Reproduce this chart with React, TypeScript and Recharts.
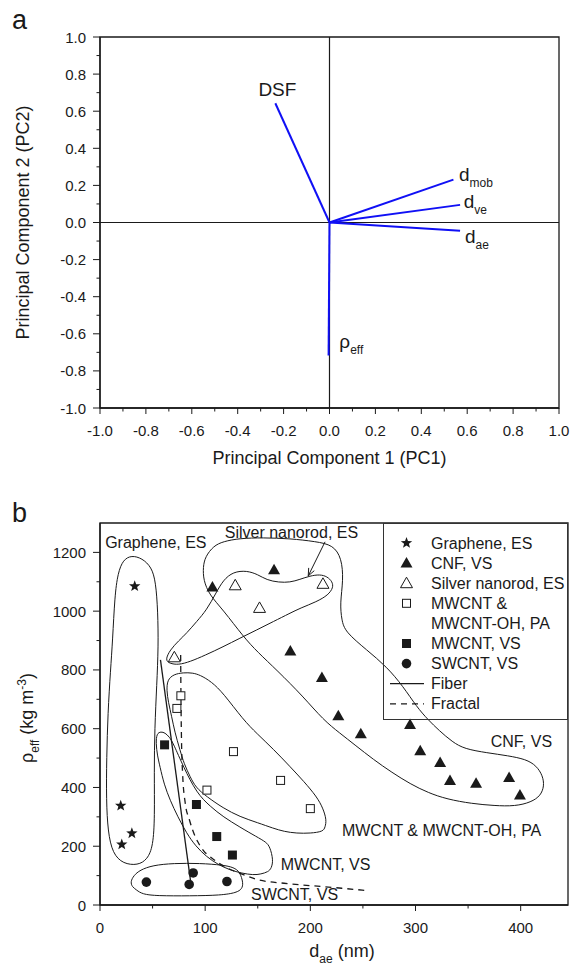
import React from 'react'
import {
  ScatterChart, Scatter, XAxis, YAxis, ReferenceLine, ReferenceArea, Legend, Label,
} from 'recharts'

const FONT = '"Liberation Sans", Arial, Helvetica, sans-serif'
const INK = '#1a1a1a'
const BLUE = '#1010f5'

// ---------- panel a : PCA loading vectors ----------
const pcaNames = ['DSF', 'd_mob', 'd_ve', 'd_ae', 'rho_eff']
const pc1 = [-0.236, 0.54, 0.569, 0.569, -0.004]
const pc2 = [0.643, 0.231, 0.095, -0.045, -0.717]
const pcaLabelMain = ['DSF', 'd', 'd', 'd', 'ρ']
const pcaLabelSub = ['', 'mob', 've', 'ae', 'eff']
const pcaLabelX = [-0.227, 0.564, 0.585, 0.59, 0.043]
const pcaLabelY = [0.681, 0.225, 0.077, -0.108, -0.676]
const pcTicks = [-1, -0.9, -0.8, -0.7, -0.6, -0.5, -0.4, -0.3, -0.2, -0.1, 0, 0.1, 0.2, 0.3, 0.4, 0.5, 0.6, 0.7, 0.8, 0.9, 1]

// ---------- panel b : effective density vs d_ae ----------
const dTicks = [0, 50, 100, 150, 200, 250, 300, 350, 400]
const rhoTicks = [0, 100, 200, 300, 400, 500, 600, 700, 800, 900, 1000, 1100, 1200]

const grapheneX = [33, 19.7, 30.3, 20.7]
const grapheneY = [1085, 338, 244, 206]
const cnfX = [106.9, 165.5, 181, 211, 226.6, 248, 294.8, 304.5, 323.4, 332.8, 357.6, 389, 399.3]
const cnfY = [1082, 1141, 864, 774, 644, 583, 614, 525, 485, 424, 414, 434, 374]
const silverX = [70.7, 128.6, 151.7, 212]
const silverY = [843, 1088, 1011, 1093]
const mwPaX = [76.9, 73.1, 126.9, 101.7, 171.7, 200]
const mwPaY = [712, 669, 522, 391, 424, 328]
const mwVsX = [61.4, 91.7, 111, 125.9]
const mwVsY = [545, 342, 233, 170]
const swX = [44.1, 84.8, 88.6, 120.7]
const swY = [78, 70, 109, 80]

const fiberX = [57.5, 87]
const fiberY = [834, 58]
const fractalX = [76.7, 77, 77.5, 78.5, 81, 85, 88, 93, 98, 108, 119, 135, 150, 175, 200, 230, 254]
const fractalY = [851, 700, 560, 450, 348, 290, 256, 215, 187, 155, 130, 105, 86, 74, 66, 57, 49]

// hand-drawn group outlines
const encGrapheneX = [30, 40, 49, 53, 55, 55.5, 54, 52, 51.5, 52, 50.5, 45, 36, 22, 12, 7.5, 6, 6.3, 7.5, 10, 12, 14, 17, 22]
const encGrapheneY = [1190, 1180, 1150, 1100, 1000, 880, 750, 600, 450, 300, 200, 155, 135, 140, 175, 250, 357, 500, 653, 800, 900, 1050, 1130, 1175]
const encSilverX = [62, 66.6, 75, 82.4, 92, 101.4, 110, 117.2, 126.7, 139.5, 150, 158.5, 170, 180.7, 190, 199.7, 209, 216, 221, 221.8, 217, 206, 190.2, 180.7, 165, 149, 133, 117.2, 100, 85.6, 74.5, 66]
const encSilverY = [834, 868, 900, 925, 965, 1004, 1060, 1106, 1134, 1138, 1125, 1106, 1098, 1098, 1108, 1120, 1125, 1118, 1100, 1080, 1055, 1032, 1010, 993, 965, 936, 908, 879, 850, 828, 817, 822]
const encCnfX = [100, 108, 117, 133, 155, 181, 205, 221.8, 229.8, 231.4, 228.2, 229.8, 233, 253.6, 272.6, 288.4, 301, 312, 322.4, 335, 346.6, 368, 388, 405, 415, 421, 422.4, 419, 410, 394.8, 375, 353.4, 330, 312, 295, 277.6, 260, 243, 228, 212.3, 193.3, 168, 150, 136.3, 117.2, 104, 98.3, 98]
const encCnfY = [1185, 1222, 1237, 1248, 1250, 1247, 1237, 1225, 1180, 1106, 1027, 970, 930, 868, 811, 743, 675, 630, 594, 555, 531, 518, 508, 496, 474, 440, 405, 372, 350, 336, 338, 345, 360, 382, 412, 451, 495, 543, 585, 630, 709, 800, 860, 913, 1004, 1055, 1106, 1150]
const encMwPaX = [64, 70, 79.2, 88, 95, 106, 117.2, 136.3, 149, 165, 180.7, 194, 206, 212, 215.5, 214, 212.3, 200, 187, 175, 164.8, 150, 133.1, 117, 101.4, 91, 85.6, 80, 76, 71, 68.2, 65, 63.4]
const encMwPaY = [766, 785, 791, 790, 783, 760, 721, 630, 584, 530, 471, 420, 369, 330, 289, 265, 250, 244, 244, 250, 261, 280, 300, 330, 369, 400, 437, 480, 528, 590, 641, 690, 730]
const encMwVsX = [53.9, 58, 61.8, 66, 69.7, 79.2, 92, 105, 117.2, 133, 149, 158, 161.6, 164.8, 163, 160, 153, 145.8, 135, 123.6, 112, 101.4, 91, 82.4, 74, 66.6, 61, 57, 54.5, 53.2]
const encMwVsY = [584, 590, 586, 572, 550, 471, 380, 335, 300, 265, 232, 214, 198, 153, 125, 113, 105, 102, 108, 119, 138, 164, 200, 244, 300, 357, 410, 471, 510, 550]
const encSwX = [29, 32, 38, 50, 69.7, 95, 117.2, 127, 133.1, 136.3, 135, 130, 115, 85.6, 53.9, 40, 34.8, 30.5]
const encSwY = [79, 100, 119, 135, 142, 142, 136, 128, 113, 74, 55, 42, 33, 31, 31, 37, 51, 62]

const groupLabels = ['Graphene, ES', 'Silver nanorod, ES', 'CNF, VS', 'MWCNT & MWCNT-OH, PA', 'MWCNT, VS', 'SWCNT, VS']
const groupLabelX = [53.1, 182, 400.7, 324.8, 214.5, 185]
const groupLabelY = [1214, 1249, 537, 235, 118, 16]
const arrowX = [214, 198]
const arrowY = [1236, 1120]

const legendLabels = ['Graphene, ES', 'CNF, VS', 'Silver nanorod, ES', 'MWCNT &', 'MWCNT-OH, PA', 'MWCNT, VS', 'SWCNT, VS', 'Fiber', 'Fractal']
const legendMarks = ['star', 'tri', 'openTri', 'openSq', '', 'sq', 'circle', 'solid', 'dash']

const pts = (xs: number[], ys: number[]) => xs.map((x, i) => ({ x, y: ys[i] }))

function starPoints(cx: number, cy: number, R: number, r: number) {
  const out: string[] = []
  for (let i = 0; i < 10; i++) {
    const a = -Math.PI / 2 + (i * Math.PI) / 5
    const rad = i % 2 === 0 ? R : r
    out.push(`${cx + rad * Math.cos(a)},${cy + rad * Math.sin(a)}`)
  }
  return out.join(' ')
}

function mark(kind: string, cx: number, cy: number) {
  switch (kind) {
    case 'star':
      return <polygon points={starPoints(cx, cy, 6, 2.5)} fill={INK} />
    case 'tri':
      return <polygon points={`${cx},${cy - 6} ${cx + 6},${cy + 4.5} ${cx - 6},${cy + 4.5}`} fill={INK} />
    case 'openTri':
      return <polygon points={`${cx},${cy - 6} ${cx + 6},${cy + 4.5} ${cx - 6},${cy + 4.5}`} fill="#fff" stroke={INK} strokeWidth={1} />
    case 'openSq':
      return <rect x={cx - 4} y={cy - 4} width={8} height={8} fill="#fff" stroke={INK} strokeWidth={1} />
    case 'sq':
      return <rect x={cx - 4.5} y={cy - 4.5} width={9} height={9} fill={INK} />
    case 'circle':
      return <circle cx={cx} cy={cy} r={4.8} fill={INK} />
    default:
      return <g />
  }
}

const shapeOf = (kind: string) => (p: any) => mark(kind, p.cx, p.cy)
const noDot = () => <g />

function XTick(props: any) {
  const { x, y, payload, isMajor, fmt } = props
  const major = isMajor(payload.value)
  return (
    <g>
      <line x1={x} y1={y} x2={x} y2={y + (major ? 6 : 3.5)} stroke={INK} />
      {major && (
        <text x={x} y={y + 22} textAnchor="middle" dominantBaseline="central" fontSize={15} fontFamily={FONT} fill={INK}>
          {fmt(payload.value)}
        </text>
      )}
    </g>
  )
}

function YTick(props: any) {
  const { x, y, payload, isMajor, fmt } = props
  const major = isMajor(payload.value)
  return (
    <g>
      <line x1={x - (major ? 7 : 3.5)} y1={y} x2={x} y2={y} stroke={INK} />
      {major && (
        <text x={x - 14} y={y} textAnchor="end" dominantBaseline="central" fontSize={15} fontFamily={FONT} fill={INK}>
          {fmt(payload.value)}
        </text>
      )}
    </g>
  )
}

const pcMajor = (v: number) => Math.round(Math.abs(v) * 10) % 2 === 0
const pcFmt = (v: number) => v.toFixed(1)
const dMajor = (v: number) => v % 100 === 0
const rhoMajor = (v: number) => v % 200 === 0
const intFmt = (v: number) => String(v)

function VectorLabel(p: any) {
  const d = p.payload
  const anchor = d.sub ? 'start' : 'middle'
  return (
    <text x={p.cx} y={p.cy} textAnchor={anchor} fontSize={19} fontFamily={FONT} fill={INK}>
      {d.main}
      {d.sub && <tspan dy={6} fontSize={12}>{d.sub}</tspan>}
    </text>
  )
}

function GroupLabel(p: any) {
  return (
    <text x={p.cx} y={p.cy} textAnchor="middle" fontSize={16} fontFamily={FONT} fill={INK}>
      {p.payload.text}
    </text>
  )
}

function ArrowShape(p: any) {
  const { x1, y1, x2, y2 } = p
  const ang = Math.atan2(y2 - y1, x2 - x1)
  const L = 8
  const a1 = ang + Math.PI - 0.4
  const a2 = ang + Math.PI + 0.4
  return (
    <g stroke={INK} strokeWidth={1} fill="none">
      <line x1={x1} y1={y1} x2={x2} y2={y2} />
      <polyline points={`${x2 + L * Math.cos(a1)},${y2 + L * Math.sin(a1)} ${x2},${y2} ${x2 + L * Math.cos(a2)},${y2 + L * Math.sin(a2)}`} />
    </g>
  )
}

const titleAY = (props: any) => {
  const vb = props.viewBox || { x: 0, y: 37, width: 100, height: 371 }
  const cx = vb.x + 29
  const cy = vb.y + vb.height / 2
  return (
    <text x={cx} y={cy} transform={`rotate(-90 ${cx} ${cy})`} textAnchor="middle" fontSize={18} fontFamily={FONT} fill={INK}>
      Principal Component 2 (PC2)
    </text>
  )
}

const titleAX = (props: any) => {
  const vb = props.viewBox || { x: 100, y: 408, width: 459, height: 60 }
  return (
    <text x={vb.x + vb.width / 2} y={vb.y + 56} textAnchor="middle" fontSize={18} fontFamily={FONT} fill={INK}>
      Principal Component 1 (PC1)
    </text>
  )
}

const titleBY = (props: any) => {
  const vb = props.viewBox || { x: 0, y: 53, width: 100, height: 382 }
  const cx = vb.x + 33
  const cy = vb.y + vb.height / 2 + 4
  return (
    <text x={cx} y={cy} transform={`rotate(-90 ${cx} ${cy})`} textAnchor="middle" fontSize={18} fontFamily={FONT} fill={INK}>
      ρ<tspan dy={6} fontSize={12}>eff</tspan>
      <tspan dy={-6}> (kg m</tspan>
      <tspan dy={-7} fontSize={12}>-3</tspan>
      <tspan dy={7}>)</tspan>
    </text>
  )
}

const titleBX = (props: any) => {
  const vb = props.viewBox || { x: 100, y: 905, width: 468, height: 55 }
  return (
    <text x={vb.x + vb.width / 2 + 8} y={vb.y + 52} textAnchor="middle" fontSize={18} fontFamily={FONT} fill={INK}>
      d<tspan dy={6} fontSize={12}>ae</tspan>
      <tspan dy={-6}> (nm)</tspan>
    </text>
  )
}

function LegendBox() {
  const rowY = (i: number) => 20 + i * 20.1
  return (
    <svg width={185} height={197} style={{ display: 'block', overflow: 'visible' }}>
      <rect x={0.5} y={0.5} width={184} height={196} fill="none" stroke="#333" strokeWidth={1} />
      {legendLabels.map((t, i) => {
        const y = rowY(i)
        const k = legendMarks[i]
        return (
          <g key={t}>
            {k === 'solid' && <line x1={7} y1={y} x2={41} y2={y} stroke={INK} strokeWidth={1.2} />}
            {k === 'dash' && <line x1={7} y1={y} x2={41} y2={y} stroke={INK} strokeWidth={1.2} strokeDasharray="6 5" />}
            {k !== 'solid' && k !== 'dash' && mark(k, 23.5, y)}
            <text x={48} y={y} dominantBaseline="central" fontSize={16} fontFamily={FONT} fill={INK}>{t}</text>
          </g>
        )
      })}
    </svg>
  )
}

export default function App() {
  const vectors = pcaNames.map((n, i) => ({ name: n, x: pc1[i], y: pc2[i] }))
  const vecLabels = pcaNames.map((n, i) => ({ x: pcaLabelX[i], y: pcaLabelY[i], main: pcaLabelMain[i], sub: pcaLabelSub[i] }))
  const enclosures = [
    pts(encGrapheneX, encGrapheneY),
    pts(encSilverX, encSilverY),
    pts(encCnfX, encCnfY),
    pts(encMwPaX, encMwPaY),
    pts(encMwVsX, encMwVsY),
    pts(encSwX, encSwY),
  ]
  const labels = groupLabels.map((t, i) => ({ x: groupLabelX[i], y: groupLabelY[i], text: t }))

  return (
    <div style={{ position: 'absolute', left: 0, top: 0, width: 570, height: 967, background: '#fff', fontFamily: FONT }}>
      <svg width={570} height={967} style={{ position: 'absolute', left: 0, top: 0 }}>
        <text x={12} y={29} fontSize={27} fontFamily={FONT} fill={INK}>a</text>
        <text x={12} y={522} fontSize={27} fontFamily={FONT} fill={INK}>b</text>
      </svg>

      <div style={{ position: 'absolute', left: 0, top: 0 }}>
        <ScatterChart width={570} height={475} margin={{ top: 37, right: 11, bottom: 7, left: 0 }}>
          <XAxis
            type="number" dataKey="x" domain={[-1, 1]} ticks={pcTicks} interval={0} height={60}
            tickLine={false} tickSize={0} tickMargin={0} axisLine={{ stroke: INK, strokeWidth: 1.3 }} allowDataOverflow
            tick={(p: any) => <XTick {...p} isMajor={pcMajor} fmt={pcFmt} />}
            label={<Label content={titleAX} />}
          />
          <YAxis
            type="number" dataKey="y" domain={[-1, 1]} ticks={pcTicks} interval={0} width={100}
            tickLine={false} tickSize={0} tickMargin={0} axisLine={{ stroke: INK, strokeWidth: 1.3 }} allowDataOverflow
            tick={(p: any) => <YTick {...p} isMajor={pcMajor} fmt={pcFmt} />}
            label={<Label content={titleAY} />}
          />
          <ReferenceArea x1={-1} x2={1} y1={-1} y2={1} fill="none" stroke={INK} strokeWidth={1.3} />
          <ReferenceLine x={0} stroke={INK} strokeWidth={1.2} />
          <ReferenceLine y={0} stroke={INK} strokeWidth={1.2} />
          {vectors.map(v => (
            <Scatter
              key={v.name}
              data={[{ x: 0, y: 0 }, { x: v.x, y: v.y }]}
              line={{ stroke: BLUE, strokeWidth: 2, fill: 'none' }}
              shape={noDot}
              isAnimationActive={false}
            />
          ))}
          <Scatter data={vecLabels} shape={VectorLabel} isAnimationActive={false} />
        </ScatterChart>
      </div>

      <div style={{ position: 'absolute', left: 0, top: 470 }}>
        <ScatterChart width={570} height={497} margin={{ top: 53, right: 2, bottom: 7, left: 0 }}>
          <XAxis
            type="number" dataKey="x" domain={[0, 445]} ticks={dTicks} interval={0} height={55}
            tickLine={false} tickSize={0} tickMargin={0} axisLine={{ stroke: INK, strokeWidth: 1.3 }} allowDataOverflow
            tick={(p: any) => <XTick {...p} isMajor={dMajor} fmt={intFmt} />}
            label={<Label content={titleBX} />}
          />
          <YAxis
            type="number" dataKey="y" domain={[0, 1300]} ticks={rhoTicks} interval={0} width={100}
            tickLine={false} tickSize={0} tickMargin={0} axisLine={{ stroke: INK, strokeWidth: 1.3 }} allowDataOverflow
            tick={(p: any) => <YTick {...p} isMajor={rhoMajor} fmt={intFmt} />}
            label={<Label content={titleBY} />}
          />
          <ReferenceArea x1={0} x2={445} y1={0} y2={1300} fill="none" stroke={INK} strokeWidth={1.3} />
          {enclosures.map((e, i) => (
            <Scatter
              key={'enc' + i}
              data={e}
              line={{ stroke: INK, strokeWidth: 1, fill: 'none' }}
              lineJointType="basisClosed"
              shape={noDot}
              isAnimationActive={false}
            />
          ))}
          <Scatter data={pts(fiberX, fiberY)} line={{ stroke: INK, strokeWidth: 1.3, fill: 'none' }} shape={noDot} isAnimationActive={false} />
          <Scatter
            data={pts(fractalX, fractalY)}
            line={{ stroke: INK, strokeWidth: 1.3, strokeDasharray: '6 5', fill: 'none' }}
            lineJointType="monotone"
            shape={noDot}
            isAnimationActive={false}
          />
          <ReferenceLine
            segment={[{ x: arrowX[0], y: arrowY[0] }, { x: arrowX[1], y: arrowY[1] }]}
            shape={ArrowShape}
          />
          <Scatter data={pts(grapheneX, grapheneY)} shape={shapeOf('star')} isAnimationActive={false} />
          <Scatter data={pts(cnfX, cnfY)} shape={shapeOf('tri')} isAnimationActive={false} />
          <Scatter data={pts(silverX, silverY)} shape={shapeOf('openTri')} isAnimationActive={false} />
          <Scatter data={pts(mwPaX, mwPaY)} shape={shapeOf('openSq')} isAnimationActive={false} />
          <Scatter data={pts(mwVsX, mwVsY)} shape={shapeOf('sq')} isAnimationActive={false} />
          <Scatter data={pts(swX, swY)} shape={shapeOf('circle')} isAnimationActive={false} />
          <Scatter data={labels} shape={GroupLabel} isAnimationActive={false} />
          <Legend
            layout="vertical" align="center" verticalAlign="middle"
            wrapperStyle={{ position: 'absolute', left: 383, top: 53, width: 185, height: 197 }}
            content={() => <LegendBox />}
          />
        </ScatterChart>
      </div>
    </div>
  )
}
